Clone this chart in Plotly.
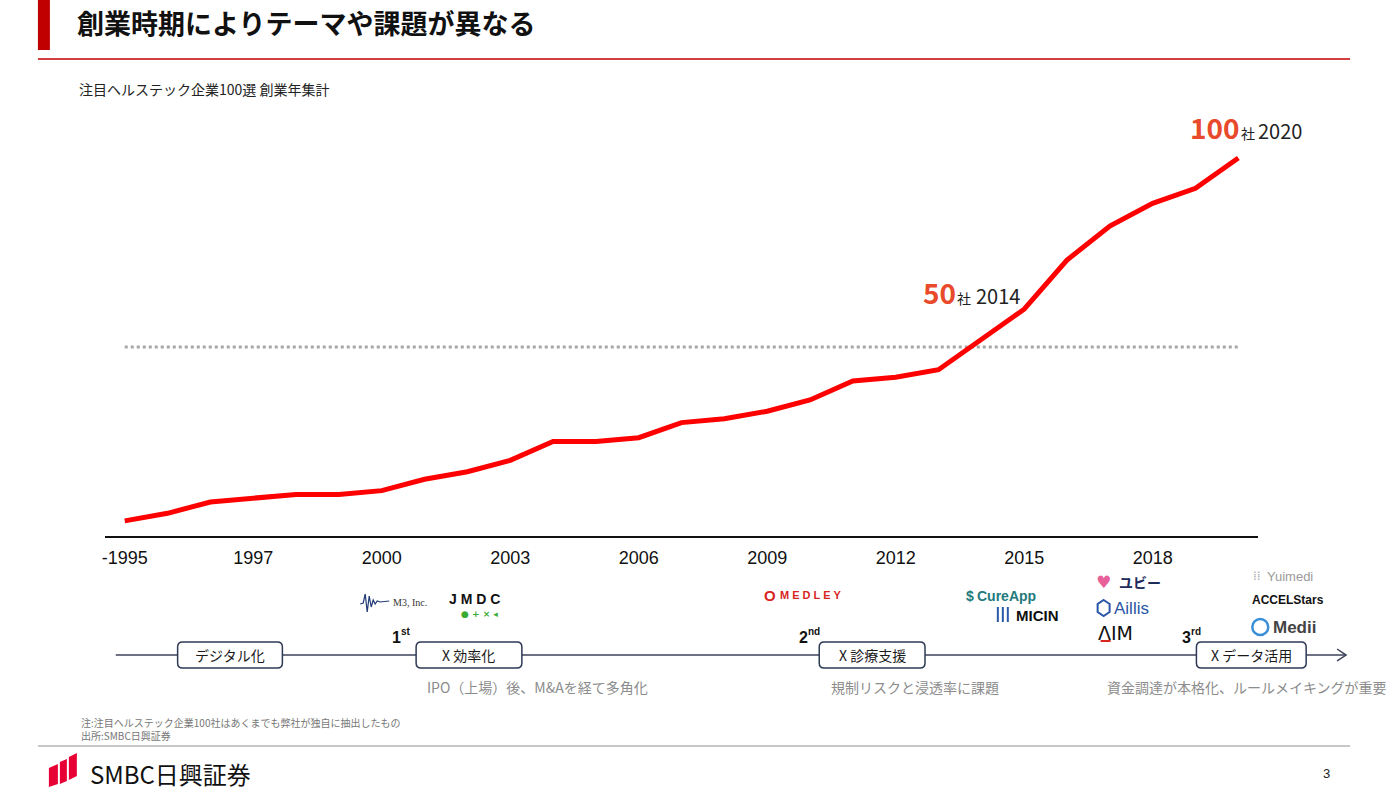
import plotly.graph_objects as go

# ---------------- data ----------------
CATEGORIES = ["-1995", "1995", "1996", "1997", "1998", "1999", "2000", "2001", "2002",
              "2003", "2004", "2005", "2006", "2007", "2008", "2009", "2010", "2011",
              "2012", "2013", "2014", "2015", "2016", "2017", "2018", "2019", "2020"]
CUMULATIVE = [4, 6, 9, 10, 11, 11, 12, 15, 17, 20, 25, 25, 26, 30, 31, 33, 36, 41,
              42, 44, 52, 60, 73, 82, 88, 92, 100]
TICK_VALUES = ["-1995", "1997", "2000", "2003", "2006", "2009", "2012", "2015", "2018"]
TICK_LABELS = ["-1995", "1997", "2000", "2003", "2006", "2009", "2012", "2015", "2018"]
HALF_MARK = 50

TITLE = "創業時期によりテーマや課題が異なる"
SUBTITLE = "注目ヘルステック企業100選 創業年集計"
NOTE1 = "注:注目ヘルステック企業100社はあくまでも弊社が独自に抽出したもの"
NOTE2 = "出所:SMBC日興証券"
PHASES = ["デジタル化", "X 効率化", "X 診療支援", "X データ活用"]
PHASE_NOTES = ["IPO（上場）後、M&Aを経て多角化", "規制リスクと浸透率に課題",
               "資金調達が本格化、ルールメイキングが重要"]
STAGE_NUMS = ["1", "2", "3"]
STAGE_SUFFIXES = ["st", "nd", "rd"]
CALLOUT_COUNTS = ["100", "50"]
CALLOUT_YEARS = ["2020", "2014"]

# ---------------- helpers ----------------
W, H = 1389, 793
JP = "Noto Sans CJK JP"
SANS = "Liberation Sans"


def X(p):
    return p / W


def Y(p):
    return 1 - p / H


annotations = []
shapes = []


def txt(x, y, s, size, color="#222222", xanchor="left", family=JP, yanchor="middle"):
    annotations.append(dict(x=X(x), y=Y(y), xref="paper", yref="paper", text=s,
                            showarrow=False, xanchor=xanchor, yanchor=yanchor,
                            borderpad=0,
                            font=dict(size=size, color=color, family=family)))


def rect(x0, y0, x1, y1, fill, line=None, lw=0):
    shapes.append(dict(type="rect", xref="paper", yref="paper",
                       x0=X(x0), x1=X(x1), y0=Y(y1), y1=Y(y0),
                       fillcolor=fill, line=dict(width=lw, color=line or fill)))


def hline(x0, x1, y, color, width, dash="solid"):
    shapes.append(dict(type="line", xref="paper", yref="paper",
                       x0=X(x0), x1=X(x1), y0=Y(y), y1=Y(y),
                       line=dict(color=color, width=width, dash=dash)))


def poly(pts, fill=None, line=None, lw=1, close=True):
    d = "M " + " L ".join(f"{X(a):.5f},{Y(b):.5f}" for a, b in pts)
    if close:
        d += " Z"
    shapes.append(dict(type="path", xref="paper", yref="paper", path=d,
                       fillcolor=fill if fill else "rgba(0,0,0,0)",
                       line=dict(color=line or "rgba(0,0,0,0)", width=lw)))


def rrect(x0, y0, x1, y1, r, color, lw):
    def P(a, b):
        return f"{X(a):.5f},{Y(b):.5f}"
    d = (f"M {P(x0 + r, y0)} L {P(x1 - r, y0)} Q {P(x1, y0)} {P(x1, y0 + r)} "
         f"L {P(x1, y1 - r)} Q {P(x1, y1)} {P(x1 - r, y1)} "
         f"L {P(x0 + r, y1)} Q {P(x0, y1)} {P(x0, y1 - r)} "
         f"L {P(x0, y0 + r)} Q {P(x0, y0)} {P(x0 + r, y0)} Z")
    shapes.append(dict(type="path", xref="paper", yref="paper", path=d,
                       fillcolor="white", line=dict(color=color, width=lw)))


# ---------------- figure ----------------
fig = go.Figure()
fig.add_trace(go.Scatter(x=CATEGORIES, y=CUMULATIVE, mode="lines",
                         line=dict(color="#FF0000", width=5),
                         hoverinfo="skip"))

# 50-company reference line
shapes.append(dict(type="line", xref="x", yref="y", x0=0, x1=26,
                   y0=HALF_MARK, y1=HALF_MARK, layer="below",
                   line=dict(color="#A6A6A6", width=3, dash="dot")))

# header
rect(35, 0, 47, 50, "#C00000")
hline(35, 1350, 59, "#C00000", 1.5)
txt(73, 22, f"<b>{TITLE}</b>", 27, "#111111")
txt(75, 89, SUBTITLE, 14, "#222222")

# callouts (count in bold red, "社" small, year)
callout_pos = [(1189, 1240, 1257, 138), (921, 955, 974, 303)]
for (xn, xs, xy, base), cnt, yr in zip(callout_pos, CALLOUT_COUNTS, CALLOUT_YEARS):
    txt(xn, base - 0.38 * 28, f"<b>{cnt}</b>", 28, "#E84A2B")
    txt(xs, base - 0.38 * 14, "社", 14, "#222222")
    txt(xy, base - 0.38 * 20, yr, 20, "#222222")

# ---------- timeline ----------
TL_Y = 655
hline(113, 1345, TL_Y, "#3C4258", 1.5)
poly([(1337, 649), (1346, TL_Y), (1337, 661)], line="#3C4258", lw=1.5, close=False)

box_pos = [(175, 280), (414, 520), (818, 924), (1196, 1306)]
for (a, b), label in zip(box_pos, PHASES):
    rrect(a, 642, b, 668, 5, "#2E3A55", 1.5)
    txt((a + b) / 2, 655, label, 14, "#1A1A1A", xanchor="center")

stage_pos = [389, 797, 1181]
for a, n, suf in zip(stage_pos, STAGE_NUMS, STAGE_SUFFIXES):
    txt(a, 637, f"<b>{n}</b>", 16, "#111111", family=SANS)
    txt(a + 9, 631, f"<b>{suf}</b>", 10, "#111111", family=SANS)

note_pos = [(424, 687), (829, 687), (1105, 687)]
for (a, b), s in zip(note_pos, PHASE_NOTES):
    txt(a, b, s, 14, "#8C8C8C")

# ---------- company logos (text approximations) ----------
# M3
poly([(358, 604), (361, 603), (363, 594), (365, 612), (367, 596), (369, 607),
      (371, 600), (373, 604), (375, 601), (378, 602), (387, 601)],
     line="#1F3A75", lw=1.2, close=False)
txt(390, 602, "M3, Inc.", 10, "#333333", family="Liberation Serif")
# JMDC
txt(446, 599, "<b>J M D C</b>", 14, "#111111", family=SANS)
txt(458, 614, "<b>● + × ◂</b>", 9, "#3AAA35", family="DejaVu Sans")
# MEDLEY
txt(762, 595, "<b>O</b>", 15, "#D7261E", family=SANS)
txt(778, 595, "<b>M E D L E Y</b>", 11, "#D7261E", family=SANS)
# CureApp / MICIN
txt(964, 596, "<b>$</b>", 14, "#227A7C", family=SANS)
txt(975, 596, "<b>CureApp</b>", 14, "#227A7C", family=SANS)
for k in range(3):
    rect(996 + k * 5, 607, 998 + k * 5, 622, "#2B5BA8")
txt(1014, 615, "<b>MICIN</b>", 15, "#111111", family=SANS)
# Ubie / Aillis / AIM
txt(1094, 582, "♥", 17, "#E8609A", family="DejaVu Sans")
txt(1117, 582, "<b>ユビー</b>", 14, "#1D2B5A")
poly([(1103, 600), (1109, 604), (1109, 612), (1103, 616), (1097, 612), (1097, 604)],
     line="#2A55A6", lw=2)
txt(1112, 608, "Aillis", 17, "#2A55A6", family=SANS)
txt(1096, 633, "ΛIM", 19, "#111111", family="DejaVu Sans")
hline(1100, 1110, 641, "#D7261E", 2)
# Yuimedi / ACCELStars / Medii
txt(1252, 576, "⁞⁞", 12, "#A8A8A8", family="DejaVu Sans")
txt(1266, 576, "Yuimedi", 13, "#9A9A9A", family=SANS)
txt(1251, 600, "<b>ACCELStars</b>", 12, "#111111", family=SANS)
shapes.append(dict(type="circle", xref="paper", yref="paper",
                   x0=X(1252), x1=X(1268), y0=Y(635), y1=Y(619),
                   line=dict(color="#3A8FD8", width=2.5)))
txt(1272, 627, "<b>Medii</b>", 17, "#444444", family=SANS)

# ---------- footer ----------
txt(77, 722, NOTE1, 10, "#777777")
txt(77, 735, NOTE2, 10, "#777777")
hline(35, 1350, 746, "#C8C8C8", 2)
poly([(46, 768), (55, 764), (55, 784), (46, 787)], fill="#E60033")
poly([(57, 762), (64, 759), (64, 781), (57, 784)], fill="#E60033")
poly([(66, 757), (74, 753), (74, 776), (66, 780)], fill="#E60033")
txt(86, 773, "SMBC日興証券", 24, "#111111")
txt(1326, 773, "3", 13, "#222222", xanchor="center", family=SANS)

# ---------- axes ----------
X_LEFT, X_RIGHT = 102, 1258      # pixel extent of the axis line
Y_ZERO, Y_TOP = 536, 100         # pixel positions of value 0 and plot top
PX_PER_UNIT = 3.78
PX_PER_CAT = (1238 - 122) / (len(CATEGORIES) - 1)

fig.update_layout(
    width=W, height=H,
    margin=dict(l=0, r=0, t=0, b=0),
    paper_bgcolor="white", plot_bgcolor="white",
    showlegend=False,
    shapes=shapes,
    annotations=annotations,
    xaxis=dict(
        type="category",
        domain=[X(X_LEFT), X(X_RIGHT)],
        range=[-(122 - X_LEFT) / PX_PER_CAT, len(CATEGORIES) - 1 + (X_RIGHT - 1238) / PX_PER_CAT],
        tickvals=TICK_VALUES, ticktext=TICK_LABELS,
        tickfont=dict(size=18, color="#111111", family=SANS),
        ticks="outside", ticklen=5, tickcolor="rgba(0,0,0,0)",
        showline=True, linecolor="#111111", linewidth=1.5,
        showgrid=False, zeroline=False, fixedrange=True,
    ),
    yaxis=dict(
        domain=[Y(Y_ZERO), Y(Y_TOP)],
        range=[0, (Y_ZERO - Y_TOP) / PX_PER_UNIT],
        showticklabels=False, showgrid=False, zeroline=False, showline=False,
        fixedrange=True,
    ),
)

fig.write_html("out.html", config={"displayModeBar": False})
